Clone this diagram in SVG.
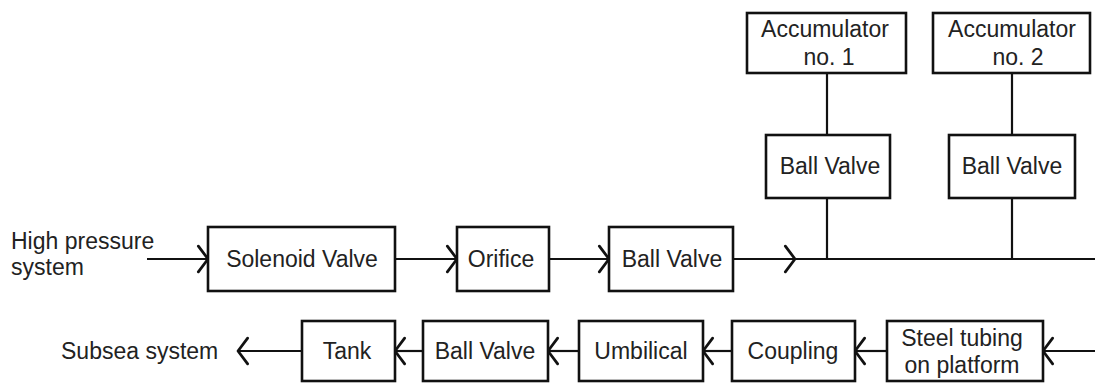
<svg xmlns="http://www.w3.org/2000/svg" width="1095" height="383" viewBox="0 0 1095 383">
  <style>
    .box { fill: #ffffff; stroke: #111111; stroke-width: 2.6; }
    .lbl { font-family: "Liberation Sans", Arial, Helvetica, sans-serif; font-size: 23px; fill: #222222; text-anchor: middle; }
    .free { font-family: "Liberation Sans", Arial, Helvetica, sans-serif; font-size: 23px; fill: #222222; }
    .pipe { fill: none; stroke: #111111; stroke-width: 2.2; }
  </style>
  <defs>
    <marker id="chev" markerUnits="userSpaceOnUse" markerWidth="24" markerHeight="30" viewBox="-12 -14 14 28" refX="0" refY="0" orient="auto" overflow="visible">
      <path d="M -9 -12 L 0 0 L -9 12" fill="none" stroke="#111111" stroke-width="2.6" stroke-linecap="round" stroke-linejoin="round"/>
    </marker>
  </defs>

  <rect width="1095" height="383" fill="#ffffff"/>

  <!-- connectors -->
  <g id="connectors">
    <!-- supply line -->
    <path class="pipe" d="M 147 259 L 208 259" marker-end="url(#chev)"/>
    <path class="pipe" d="M 395 259 L 457 259" marker-end="url(#chev)"/>
    <path class="pipe" d="M 549 259 L 609 259" marker-end="url(#chev)"/>
    <path class="pipe" d="M 733 259 L 795 259" marker-end="url(#chev)"/>
    <path class="pipe" d="M 795 259 L 1095 259"/>
    <!-- accumulator branches -->
    <path class="pipe" d="M 827 73 L 827 135"/>
    <path class="pipe" d="M 827 198 L 827 259"/>
    <path class="pipe" d="M 1012 73 L 1012 135"/>
    <path class="pipe" d="M 1012 198 L 1012 259"/>
    <!-- return line -->
    <path class="pipe" d="M 1095 351 L 1043 351" marker-end="url(#chev)"/>
    <path class="pipe" d="M 887 351 L 855 351" marker-end="url(#chev)"/>
    <path class="pipe" d="M 732 351 L 703 351" marker-end="url(#chev)"/>
    <path class="pipe" d="M 579 351 L 548 351" marker-end="url(#chev)"/>
    <path class="pipe" d="M 423 351 L 395 351" marker-end="url(#chev)"/>
    <path class="pipe" d="M 302 351 L 238 351" marker-end="url(#chev)"/>
  </g>

  <!-- free labels -->
  <g id="source">
    <text class="free" x="11" y="249">High pressure</text>
    <text class="free" x="11" y="275">system</text>
  </g>
  <g id="sink">
    <text class="free" x="61" y="359">Subsea system</text>
  </g>

  <!-- upper row -->
  <g id="solenoid-valve">
    <rect class="box" x="208" y="227" width="187" height="64"/>
    <text class="lbl" x="302" y="267">Solenoid Valve</text>
  </g>
  <g id="orifice">
    <rect class="box" x="457" y="227" width="92" height="64"/>
    <text class="lbl" x="501" y="267">Orifice</text>
  </g>
  <g id="ball-valve-main">
    <rect class="box" x="609" y="227" width="124" height="64"/>
    <text class="lbl" x="672" y="267">Ball Valve</text>
  </g>

  <!-- accumulators -->
  <g id="accumulator-1">
    <rect class="box" x="747" y="13" width="159" height="60"/>
    <text class="lbl" x="825" y="37">Accumulator</text>
    <text class="lbl" x="829" y="65">no. 1</text>
  </g>
  <g id="accumulator-2">
    <rect class="box" x="933" y="13" width="157" height="60"/>
    <text class="lbl" x="1012" y="37">Accumulator</text>
    <text class="lbl" x="1018" y="65">no. 2</text>
  </g>
  <g id="ball-valve-acc-1">
    <rect class="box" x="766" y="135" width="124" height="63"/>
    <text class="lbl" x="830" y="174">Ball Valve</text>
  </g>
  <g id="ball-valve-acc-2">
    <rect class="box" x="949" y="135" width="126" height="63"/>
    <text class="lbl" x="1012" y="174">Ball Valve</text>
  </g>

  <!-- lower row -->
  <g id="tank">
    <rect class="box" x="302" y="321" width="93" height="60"/>
    <text class="lbl" x="347" y="359">Tank</text>
  </g>
  <g id="ball-valve-return">
    <rect class="box" x="423" y="321" width="125" height="60"/>
    <text class="lbl" x="485" y="359">Ball Valve</text>
  </g>
  <g id="umbilical">
    <rect class="box" x="579" y="321" width="124" height="60"/>
    <text class="lbl" x="641" y="359">Umbilical</text>
  </g>
  <g id="coupling">
    <rect class="box" x="732" y="321" width="123" height="60"/>
    <text class="lbl" x="793" y="359">Coupling</text>
  </g>
  <g id="steel-tubing">
    <rect class="box" x="887" y="321" width="156" height="60"/>
    <text class="lbl" x="962" y="346">Steel tubing</text>
    <text class="lbl" x="962" y="373">on platform</text>
  </g>
</svg>
